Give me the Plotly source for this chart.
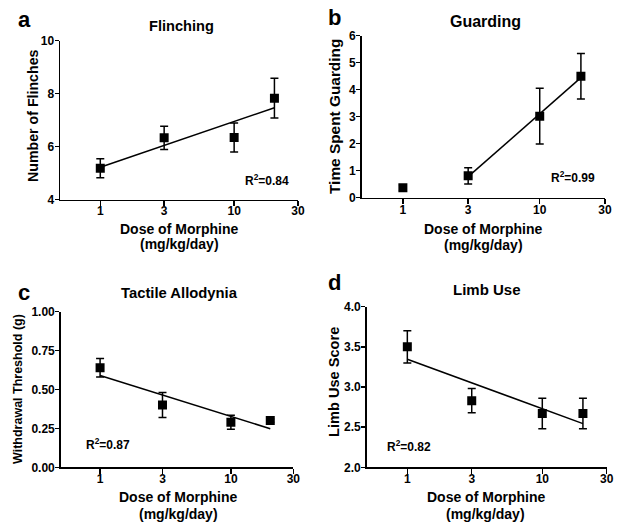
import numpy as np
import plotly.graph_objects as go

# ---------------- data ----------------
doses = [1, 3, 10, 20]
x_tickvals = [1, 3, 10, 30]
x_ticktext = ["1", "3", "10", "30"]

flinch_mean = [5.18, 6.33, 6.34, 7.83]
flinch_err = [0.36, 0.44, 0.55, 0.75]

guard_mean = [0.37, 0.81, 3.02, 4.50]
guard_err = [0.10, 0.30, 1.03, 0.84]

allod_mean = [0.64, 0.40, 0.29, 0.30]
allod_err = [0.06, 0.08, 0.045, 0.01]

limb_mean = [3.50, 2.83, 2.67, 2.67]
limb_err = [0.20, 0.15, 0.19, 0.19]

panel_letters = ["a", "b", "c", "d"]
panel_titles = ["Flinching", "Guarding", "Tactile Allodynia", "Limb Use"]
y_titles = ["Number of Flinches", "Time Spent Guarding", "Withdrawal Threshold (g)", "Limb Use Score"]
r2_labels = ["0.84", "0.99", "0.87", "0.82"]
x_title_lines = ["Dose of Morphine", "(mg/kg/day)"]

y_ranges = [[4, 10], [0, 6], [0, 1], [2, 4]]
y_tickvals = [[4, 6, 8, 10], [0, 1, 2, 3, 4, 5, 6], [0, 0.25, 0.5, 0.75, 1.0], [2.0, 2.5, 3.0, 3.5, 4.0]]
y_ticktext = [["4", "6", "8", "10"], ["0", "1", "2", "3", "4", "5", "6"],
              ["0.00", "0.25", "0.50", "0.75", "1.00"], ["2.0", "2.5", "3.0", "3.5", "4.0"]]
fit_start = [0, 1, 0, 0]  # first dose index included in regression

means = [flinch_mean, guard_mean, allod_mean, limb_mean]
errs = [flinch_err, guard_err, allod_err, limb_err]

# ---------------- layout geometry (pixels) ----------------
W, H = 620, 528
FONT = "Liberation Sans, Arial, sans-serif"


def px(x):
    return x / W


def py(y):
    return 1 - y / H


# plot areas: (left, right, top, bottom) in pixels
areas = [
    (60.0, 298.0, 40.7, 199.5),
    (361.7, 605.0, 35.7, 197.7),
    (60.7, 293.3, 311.7, 467.3),
    (366.7, 606.7, 306.7, 467.3),
]
letter_pos = [(24, 19), (334, 18), (24, 292), (334, 282)]
title_pos = [(181, 26), (485, 22), (179, 293), (487, 289)]
title_size = [14.6, 16, 14.8, 15]
ytitle_pos = [(33, 116), (335, 117), (18, 389), (334, 382)]
ytitle_size = [14.2, 15.4, 12.5, 14.6]
xtitle_pos = [(179, 228.5, 244), (483.5, 228.5, 245), (178, 497, 514), (486, 496.5, 514)]
r2_pos = [(266.5, 179.5), (572.5, 177), (108, 444), (409, 446)]

fig = go.Figure()
annotations = []

for i in range(4):
    sfx = "" if i == 0 else str(i + 1)
    xa, ya = "x" + sfx, "y" + sfx
    l, r, t, b = areas[i]

    # data points with error bars
    fig.add_trace(go.Scatter(
        x=doses, y=means[i], mode="markers",
        marker=dict(symbol="square", size=9, color="black"),
        error_y=dict(type="data", array=errs[i], visible=True, color="black",
                     thickness=1.5, width=4),
        xaxis=xa, yaxis=ya, showlegend=False, hoverinfo="skip"))

    # regression line (least squares on log10 dose)
    s = fit_start[i]
    lx = np.log10(np.array(doses[s:], dtype=float))
    yy = np.array(means[i][s:], dtype=float)
    slope, intercept = np.polyfit(lx, yy, 1)
    fx = [doses[s], doses[-1]]
    fy = [intercept + slope * np.log10(v) for v in fx]
    fig.add_trace(go.Scatter(
        x=fx, y=fy, mode="lines", line=dict(color="black", width=1.5),
        xaxis=xa, yaxis=ya, showlegend=False, hoverinfo="skip"))

    fig.update_layout({
        "xaxis" + sfx: dict(
            domain=[px(l), px(r)], anchor=ya, type="log",
            range=[np.log10(0.5), np.log10(30)],
            tickvals=x_tickvals, ticktext=x_ticktext,
            showline=True, linecolor="black", linewidth=1.5,
            ticks="outside", ticklen=5, tickwidth=1.5, tickcolor="black",
            showgrid=False, zeroline=False, automargin=False,
            ticklabelstandoff=-5,
            tickfont=dict(family=FONT, size=12, color="black", weight="bold")),
        "yaxis" + sfx: dict(
            domain=[py(b), py(t)], anchor=xa, range=y_ranges[i],
            tickvals=y_tickvals[i], ticktext=y_ticktext[i],
            showline=True, linecolor="black", linewidth=1.5,
            ticks="outside", ticklen=4, tickwidth=1.5, tickcolor="black",
            showgrid=False, zeroline=False, automargin=False,
            ticklabelstandoff=-2,
            tickfont=dict(family=FONT, size=12, color="black", weight="bold")),
    })

    # panel letter
    annotations.append(dict(text="<b>%s</b>" % panel_letters[i], x=px(letter_pos[i][0]),
                            y=py(letter_pos[i][1]), xref="paper", yref="paper",
                            showarrow=False, font=dict(family=FONT, size=22, color="black"),
                            xanchor="center", yanchor="middle"))
    # panel title
    annotations.append(dict(text="<b>%s</b>" % panel_titles[i], x=px(title_pos[i][0]),
                            y=py(title_pos[i][1]), xref="paper", yref="paper",
                            showarrow=False, font=dict(family=FONT, size=title_size[i], color="black"),
                            xanchor="center", yanchor="middle"))
    # y title
    annotations.append(dict(text="<b>%s</b>" % y_titles[i], x=px(ytitle_pos[i][0]),
                            y=py(ytitle_pos[i][1]), xref="paper", yref="paper", textangle=-90,
                            showarrow=False, font=dict(family=FONT, size=ytitle_size[i], color="black"),
                            xanchor="center", yanchor="middle"))
    # x title (two lines)
    for k, line in enumerate(x_title_lines):
        annotations.append(dict(text="<b>%s</b>" % line, x=px(xtitle_pos[i][0]),
                                y=py(xtitle_pos[i][1 + k]), xref="paper", yref="paper",
                                showarrow=False, font=dict(family=FONT, size=14, color="black"),
                                xanchor="center", yanchor="middle"))
    # R^2
    annotations.append(dict(text="<b>R<sup>2</sup>=%s</b>" % r2_labels[i], x=px(r2_pos[i][0]),
                            y=py(r2_pos[i][1]), xref="paper", yref="paper",
                            showarrow=False, font=dict(family=FONT, size=12, color="black"),
                            xanchor="center", yanchor="middle"))

fig.update_layout(
    width=W, height=H, margin=dict(l=0, r=0, t=0, b=0, pad=0, autoexpand=False),
    paper_bgcolor="white", plot_bgcolor="white",
    font=dict(family=FONT, color="black"),
    annotations=annotations, showlegend=False)

fig.write_html("out.html", config={"displayModeBar": False, "staticPlot": True},
               post_script="document.body.style.margin='0';")
